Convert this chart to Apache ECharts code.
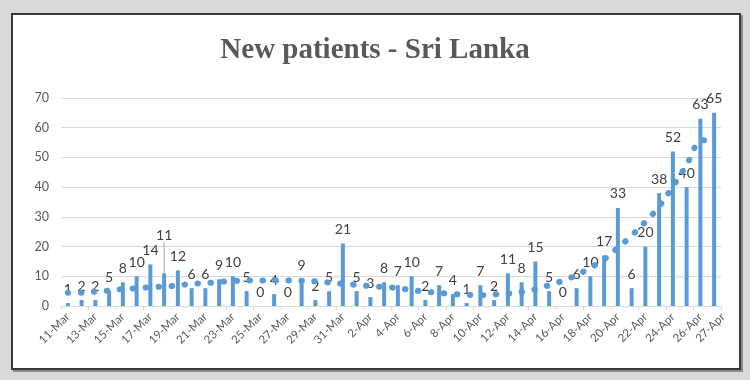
<!DOCTYPE html>
<html>
<head>
<meta charset="utf-8">
<script src="https://cdn.jsdelivr.net/npm/echarts@6/dist/echarts.min.js"></script>
<style>
  html, body { margin: 0; padding: 0; background: #d9d9d9; width: 750px; height: 380px; overflow: hidden; }
  #frame { position: absolute; left: 11px; top: 13px; width: 726px; height: 353px; background: #ffffff; border: 2px solid #3a3a3a; box-shadow: 2px 2px 0 #8a8a8a; }
  #chart { position: absolute; left: 0; top: 0; width: 750px; height: 380px; }
</style>
</head>
<body>
<div id="frame"></div>
<div id="chart"></div>
<script>
const titleText = 'New patients - Sri Lanka';
const categories = [
  '11-Mar','12-Mar','13-Mar','14-Mar','15-Mar','16-Mar','17-Mar','18-Mar','19-Mar','20-Mar',
  '21-Mar','22-Mar','23-Mar','24-Mar','25-Mar','26-Mar','27-Mar','28-Mar','29-Mar','30-Mar','31-Mar',
  '1-Apr','2-Apr','3-Apr','4-Apr','5-Apr','6-Apr','7-Apr','8-Apr','9-Apr','10-Apr',
  '11-Apr','12-Apr','13-Apr','14-Apr','15-Apr','16-Apr','17-Apr','18-Apr','19-Apr','20-Apr',
  '21-Apr','22-Apr','23-Apr','24-Apr','25-Apr','26-Apr','27-Apr'
];
const newPatients = [
  1,2,2,5,8,10,14,11,12,6,
  6,9,10,5,0,4,0,9,2,5,21,
  5,3,8,7,10,2,7,4,1,7,
  2,11,8,15,5,0,6,10,17,33,
  6,20,38,52,40,63,65
];
const trendValues = [
  4.5,4.5,4.8,5.2,5.7,6.0,6.3,6.6,6.9,7.5,
  7.7,8.1,8.4,8.6,8.6,8.6,8.6,8.5,8.3,7.9,7.5,
  7.1,6.7,6.4,6.0,5.4,4.8,4.4,4.0,3.8,3.6,
  3.9,4.2,4.7,5.6,7.0,8.5,10.4,12.9,15.7,19.6,
  23.7,28.3,33.5,40.3,47.5,55.5,56.0
];
const yTicks = [0,10,20,30,40,50,60,70];

const BLUE = '#5b9bd5';
const liftedIndex = 7;
const lastIndex = categories.length - 1;

const barData = newPatients.map(function (v, i) {
  if (i === liftedIndex) {
    return { value: v, labelLine: { show: true, length2: 0, lineStyle: { color: '#a6a6a6', width: 1 } } };
  }
  return v;
});

const labelStyle = { rotate: 45, margin: 9, fontSize: 11.5, fontFamily: 'Lato', color: '#595959' };

const chart = echarts.init(document.getElementById('chart'), null, { renderer: 'canvas' });
chart.setOption({
  backgroundColor: 'transparent',
  animation: false,
  title: {
    text: titleText,
    left: 'center',
    top: 31,
    textStyle: { fontFamily: 'Liberation Serif', fontWeight: 'bold', fontSize: 29, color: '#595959' }
  },
  grid: [
    { left: 61, right: 29, top: 98, bottom: 74 },
    { left: 61, right: 27, top: 98, bottom: 74 }
  ],
  xAxis: [
    {
      type: 'category',
      gridIndex: 0,
      data: categories,
      boundaryGap: true,
      position: 'bottom',
      axisLine: { show: true, lineStyle: { color: '#d9d9d9', width: 1 } },
      axisTick: { show: true, interval: 1, length: 4, lineStyle: { color: '#d9d9d9' } },
      axisLabel: Object.assign({}, labelStyle, {
        interval: function (index) { return index % 2 === 0; }
      }),
      splitLine: { show: false }
    },
    {
      type: 'category',
      gridIndex: 1,
      data: categories,
      boundaryGap: false,
      position: 'bottom',
      axisLine: { show: false },
      axisTick: { show: false },
      axisLabel: Object.assign({}, labelStyle, {
        showMinLabel: false,
        showMaxLabel: true,
        interval: function (index) { return index === lastIndex; }
      }),
      splitLine: { show: false }
    }
  ],
  yAxis: [
    {
      type: 'value',
      gridIndex: 0,
      min: yTicks[0],
      max: yTicks[yTicks.length - 1],
      interval: yTicks[1] - yTicks[0],
      axisLine: { show: false },
      axisTick: { show: false },
      axisLabel: { fontSize: 12.5, fontFamily: 'Lato', color: '#595959', margin: 12 },
      splitLine: { lineStyle: { color: '#d9d9d9', width: 1 } }
    },
    {
      type: 'value',
      gridIndex: 1,
      show: false,
      min: yTicks[0],
      max: yTicks[yTicks.length - 1],
      splitLine: { show: false }
    }
  ],
  series: [
    {
      type: 'bar',
      xAxisIndex: 0,
      yAxisIndex: 0,
      data: barData,
      barWidth: 4,
      itemStyle: { color: BLUE },
      label: {
        show: true,
        position: 'top',
        distance: 7,
        fontSize: 14,
        fontFamily: 'Lato',
        color: '#404040'
      },
      labelLayout: function (p) {
        if (p.dataIndex === liftedIndex) { return { dy: -24 }; }
        return {};
      },
      z: 2
    },
    {
      type: 'line',
      xAxisIndex: 0,
      yAxisIndex: 0,
      data: trendValues,
      smooth: 0.35,
      showSymbol: false,
      symbol: 'none',
      lineStyle: { color: BLUE, width: 6, type: [0.5, 12.5], cap: 'round' },
      z: 3,
      silent: true
    }
  ]
});
</script>
</body>
</html>
